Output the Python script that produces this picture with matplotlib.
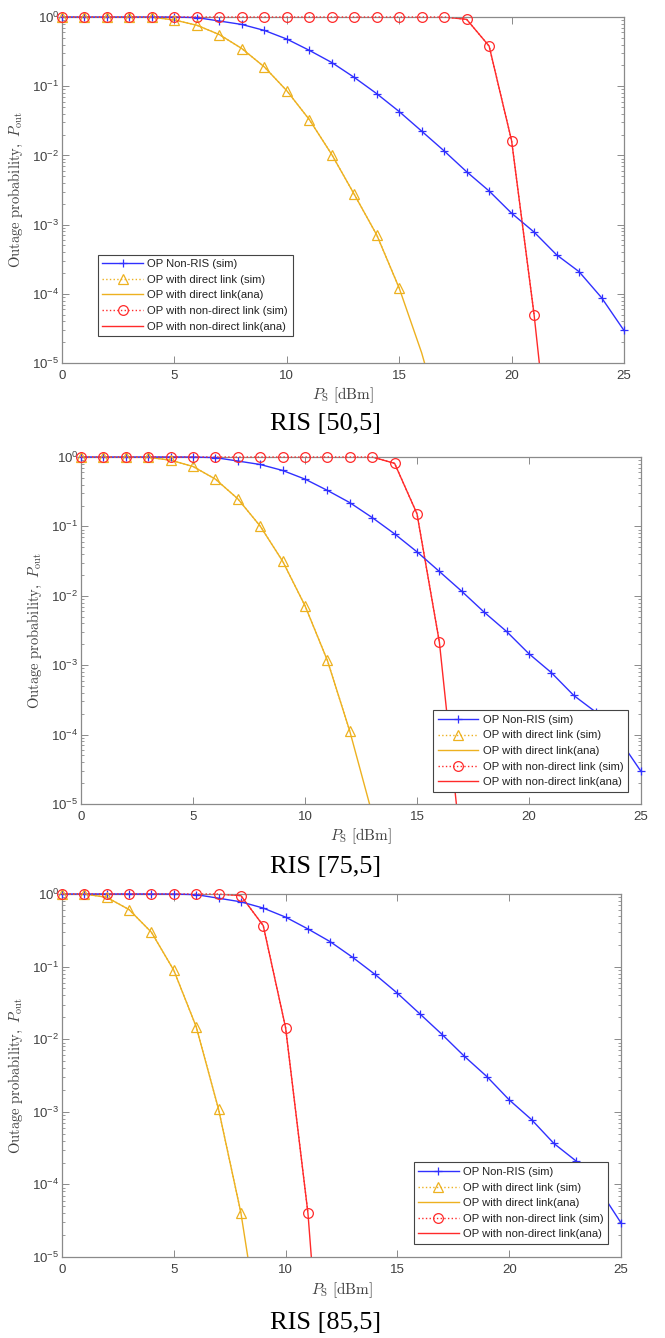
import matplotlib
matplotlib.use("Agg")
import matplotlib.pyplot as plt
from matplotlib.ticker import LogLocator, NullFormatter

# ---- data (P_S in dBm) ----
ps = list(range(26))

# Non-RIS simulation, same curve in all three panels
op_nonris = [1, 1, 1, 1, 1, 0.998, 0.98, 0.875, 0.78, 0.64, 0.48, 0.33, 0.22,
             0.134, 0.078, 0.043, 0.0224, 0.0116, 0.0058, 0.00306, 0.00146,
             0.00078, 0.000366, 0.000209, 8.8e-5, 2.95e-5]

# RIS [50,5]
p1_direct_ana = [1, 1, 1, 1, 0.995, 0.905, 0.76, 0.557, 0.35, 0.19, 0.086, 0.033,
                 0.0103, 0.00274, 0.00071, 1.21e-4, 1.4e-5, 1e-6]
p1_direct_sim = [1, 1, 1, 1, 0.995, 0.905, 0.76, 0.557, 0.35, 0.19, 0.086, 0.033,
                 0.0103, 0.00274, 0.00071, 1.21e-4]
p1_nondirect_ana = [1, 1, 1, 1, 1, 1, 1, 1, 1, 1, 1, 1, 1, 1, 1, 1, 1, 1,
                    0.925, 0.38, 0.0163, 5e-5, 5e-8]
p1_nondirect_sim = [1, 1, 1, 1, 1, 1, 1, 1, 1, 1, 1, 1, 1, 1, 1, 1, 1, 1,
                    0.925, 0.38, 0.0163, 5e-5]

# RIS [75,5]
p2_direct_ana = [1, 1, 1, 0.99, 0.9, 0.73, 0.48, 0.25, 0.101, 0.0316, 0.0072,
                 0.00117, 1.12e-4, 7.2e-6]
p2_direct_sim = [1, 1, 1, 0.99, 0.9, 0.73, 0.48, 0.25, 0.101, 0.0316, 0.0072,
                 0.00117, 1.12e-4]
p2_nondirect_ana = [1, 1, 1, 1, 1, 1, 1, 1, 1, 1, 1, 1, 1, 1,
                    0.81, 0.152, 0.00214, 1.8e-6]
p2_nondirect_sim = [1, 1, 1, 1, 1, 1, 1, 1, 1, 1, 1, 1, 1, 1,
                    0.81, 0.152, 0.00214]

# RIS [85,5]
p3_direct_ana = [1, 1, 0.9, 0.61, 0.297, 0.089, 0.0149, 0.00109, 4.07e-5, 4.4e-7]
p3_direct_sim = [1, 1, 0.9, 0.61, 0.297, 0.089, 0.0149, 0.00109, 4.07e-5]
p3_nondirect_ana = [1, 1, 1, 1, 1, 1, 1, 1, 0.95, 0.367, 0.0144, 4.0e-5, 4e-9]
p3_nondirect_sim = [1, 1, 1, 1, 1, 1, 1, 1, 0.95, 0.367, 0.0144, 4.0e-5]

captions = ["RIS [50,5]", "RIS [75,5]", "RIS [85,5]"]

panels = [
    (p1_direct_sim, p1_direct_ana, p1_nondirect_sim, p1_nondirect_ana),
    (p2_direct_sim, p2_direct_ana, p2_nondirect_sim, p2_nondirect_ana),
    (p3_direct_sim, p3_direct_ana, p3_nondirect_sim, p3_nondirect_ana),
]

legend_labels = [
    "OP Non-RIS (sim)",
    "OP with direct link (sim)",
    "OP with direct link(ana)",
    "OP with non-direct link (sim)",
    "OP with non-direct link(ana)",
]

# ---- style ----
W, H = 665, 1338
C_BLUE = "#3030ff"
C_ORANGE = "#edb120"
C_RED = "#ff2a2a"
C_AXIS = "#8a8a8a"
C_TEXT = "#404040"

plt.rcParams["font.family"] = ["Liberation Sans", "DejaVu Sans"]
plt.rcParams["mathtext.fontset"] = "custom"
plt.rcParams["mathtext.rm"] = "Liberation Sans"
plt.rcParams["mathtext.it"] = "Liberation Sans:italic"
plt.rcParams["mathtext.bf"] = "Liberation Sans:bold"

# axes boxes in pixels: left, right, top, bottom
boxes = [
    (62, 624, 17, 363),
    (81, 641, 457, 804),
    (62, 621, 894, 1257),
]
# legend anchors (axes fraction) and loc
legend_pos = [
    ("lower left", (0.064, 0.078)),
    ("lower right", (0.977, 0.035)),
    ("lower right", (0.977, 0.036)),
]
caption_y = [424, 867, 1323]

fig = plt.figure(figsize=(W / 100, H / 100), dpi=100)

for i, (dsim, dana, nsim, nana) in enumerate(panels):
    l, r, t, b = boxes[i]
    ax = fig.add_axes([l / W, 1 - b / H, (r - l) / W, (b - t) / H])

    # sim markers sit on the top edge, so they are not clipped
    ax.plot(ps, op_nonris, color=C_BLUE, linestyle="-", linewidth=1.0,
            marker="+", markersize=6, markeredgewidth=0.9, clip_on=False,
            zorder=3, label=legend_labels[0])
    ax.plot(ps[:len(dsim)], dsim, color=C_ORANGE, linestyle=":", linewidth=1.0,
            marker="^", markersize=7, markerfacecolor="none", markeredgewidth=0.9,
            clip_on=False, zorder=3, label=legend_labels[1])
    ax.plot(ps[:len(dana)], dana, color=C_ORANGE, linestyle="-", linewidth=1.0,
            label=legend_labels[2])
    ax.plot(ps[:len(nsim)], nsim, color=C_RED, linestyle=":", linewidth=1.0,
            marker="o", markersize=7, markerfacecolor="none", markeredgewidth=0.9,
            clip_on=False, zorder=3, label=legend_labels[3])
    ax.plot(ps[:len(nana)], nana, color=C_RED, linestyle="-", linewidth=1.0,
            label=legend_labels[4])

    ax.set_yscale("log")
    ax.set_ylim(1e-5, 1)
    ax.set_xlim(0, 25)
    ax.set_xticks([0, 5, 10, 15, 20, 25])
    ax.yaxis.set_major_locator(LogLocator(base=10, numticks=10))
    ax.yaxis.set_minor_locator(LogLocator(base=10, subs=range(2, 10), numticks=10))
    ax.yaxis.set_minor_formatter(NullFormatter())

    for sp in ax.spines.values():
        sp.set_color(C_AXIS)
        sp.set_linewidth(0.9)
    ax.tick_params(which="both", direction="in", top=True, right=True,
                   colors=C_AXIS, labelcolor=C_TEXT, labelsize=9.5)
    ax.tick_params(which="major", length=5, width=0.7)
    ax.tick_params(which="minor", length=2.5, width=0.6)
    ax.tick_params(axis="x", pad=5)
    ax.tick_params(axis="y", pad=2)

    ax.set_xlabel(r"$P_{\mathrm{S}}\ [\mathrm{dBm}]$", fontsize=11,
                  color=C_TEXT, math_fontfamily="cm")
    ax.set_ylabel(r"$\mathrm{Outage\ probability,}\ P_{\mathrm{out}}$",
                  fontsize=10.5, color=C_TEXT, math_fontfamily="cm")
    ax.xaxis.set_label_coords(0.5, -0.065)
    ax.yaxis.set_label_coords(-0.066, 0.5)

    loc, anchor = legend_pos[i]
    leg = ax.legend(loc=loc, bbox_to_anchor=anchor, borderaxespad=0,
                    fontsize=8.1, frameon=True, fancybox=False, framealpha=1,
                    edgecolor="#444444", handlelength=3.6, handletextpad=0.4,
                    labelspacing=0.5, borderpad=0.4)
    leg.set_zorder(5)
    leg.get_frame().set_linewidth(0.8)
    for txt in leg.get_texts():
        txt.set_color("#222222")

    fig.text(0.49, 1 - caption_y[i] / H, captions[i], ha="center", va="center",
             fontsize=19, family="Liberation Serif", color="black")

fig.savefig("out.png", dpi=100)
